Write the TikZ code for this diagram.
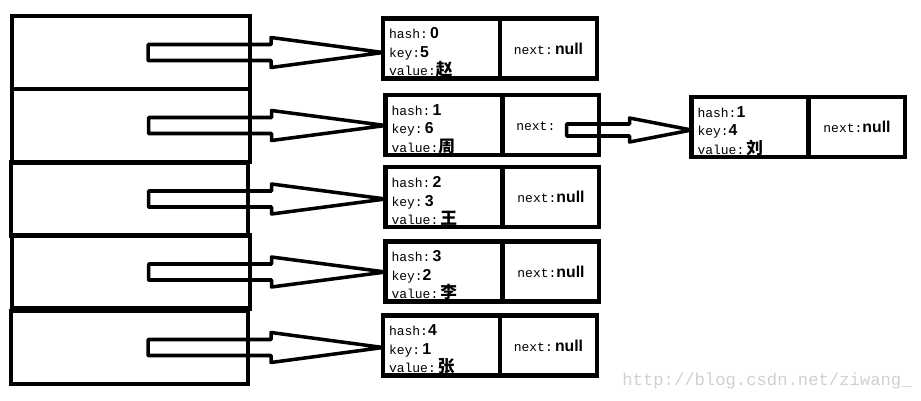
\documentclass[tikz,border=0pt]{standalone}
\usepackage{fontspec}
\setmonofont{Liberation Mono}
\newfontfamily\sansbold{Liberation Sans}
\newfontfamily\cjk{Noto Sans CJK SC}
\usepackage{tikz}
\usetikzlibrary{arrows.meta, calc, positioning}
\definecolor{markgray}{RGB}{208, 208, 208}
\newcommand{\hval}[1]{{\sansbold\bfseries\fontsize{9}{10.5}\selectfont #1}}
\newcommand{\hname}[1]{{\cjk\bfseries\fontsize{9.5}{10.5}\selectfont #1}}
\tikzstyle{bucket} = [draw, line width=2.3pt, outer sep=0, inner sep=0,
    minimum width=4.76cm, minimum height=1.46cm]
\tikzstyle{entry} = [draw, line width=2.3pt, outer sep=0, inner xsep=0.12cm,
    inner ysep=0, text width=2.1cm, minimum height=1.2cm, align=left,
    font=\fontsize{7.4}{10.5}\selectfont\ttfamily,
    execute at begin node=\rule{0pt}{11pt}]
\tikzstyle{nextbox} = [draw, line width=2.3pt, outer sep=0, inner sep=0,
    minimum width=1.94cm, minimum height=1.2cm,
    font=\fontsize{7.4}{10.5}\selectfont\ttfamily]
\tikzstyle{hollow} = [draw, line width=2pt, line join=round]

\begin{document}
\begin{tikzpicture}[x=0.02cm, y=-0.02cm]

\useasboundingbox (0,0) rectangle (921,400);

%%% BUCKETS
\node[bucket] (b1) at (131,52.5) {};
\node[bucket] (b2) at (131,125.5) {};
\node[bucket] (b3) at (129.5,199) {};
\node[bucket] (b4) at (131,272) {};
\node[bucket] (b5) at (129.5,347.5) {};

%%% ENTRIES
% left part: hash, key, value
\node[entry] (e1) at (441.5,48.5) {hash:\,\hval{0}\\key:\hval{5}\\value:\hname{赵}};
\node[entry] (e2) at (444,125) {hash:\,\hval{1}\\key:\,\hval{6}\\value:\hname{周}};
\node[entry] (e3) at (444,197) {hash:\,\hval{2}\\key:\,\hval{3}\\value:\,\hname{王}};
\node[entry] (e4) at (444,271.5) {hash:\,\hval{3}\\key:\hval{2}\\value:\,\hname{李}};
\node[entry] (e5) at (441.5,345.5) {hash:\hval{4}\\key:\,\hval{1}\\value:\,\hname{张}};
\node[entry] (e6) at (750,127) {hash:\hval{1}\\key:\hval{4}\\value:\,\hname{刘}};

% right part: next
\node[nextbox, right=0pt of e1] (n1) {next:\,\hval{null}};
\node[nextbox, right=0pt of e2] (n2) {next:\,\phantom{\hval{null}}};
\node[nextbox, right=0pt of e3] (n3) {next:\hval{null}};
\node[nextbox, right=0pt of e4] (n4) {next:\hval{null}};
\node[nextbox, right=0pt of e5] (n5) {next:\,\hval{null}};
\node[nextbox, right=0pt of e6] (n6) {next:\hval{null}};

%%% ARROWS
% bucket -> first entry (hollow block arrow)
\draw[hollow] (b1.center -| e1.west) -- ++(-112,-15) -- ++(0,7) -- ++(-123,0) -- ++(0,16) -- ++(123,0) -- ++(0,7) -- cycle;
\draw[hollow] (b2.center -| e2.west) -- ++(-114,-15) -- ++(0,7) -- ++(-123,0) -- ++(0,16) -- ++(123,0) -- ++(0,7) -- cycle;
\draw[hollow] (b3.center -| e3.west) -- ++(-114,-15) -- ++(0,7) -- ++(-123,0) -- ++(0,16) -- ++(123,0) -- ++(0,7) -- cycle;
\draw[hollow] (b4.center -| e4.west) -- ++(-114,-15) -- ++(0,7) -- ++(-123,0) -- ++(0,16) -- ++(123,0) -- ++(0,7) -- cycle;
\draw[hollow] (b5.center -| e5.west) -- ++(-112,-15) -- ++(0,7) -- ++(-123,0) -- ++(0,16) -- ++(123,0) -- ++(0,7) -- cycle;

% next of entry 2 -> chained entry
\draw[hollow] ($(e6.west)+(0,3)$) -- ++(-62,-12) -- ++(0,6) -- ++(-63,0) -- ++(0,12) -- ++(63,0) -- ++(0,6) -- cycle;

%%% WATERMARK
\node[text=markgray, font=\fontsize{9.8}{11}\selectfont\ttfamily] (mark) at (767,381) {http://blog.csdn.net/ziwang\_};

\end{tikzpicture}
\end{document}
